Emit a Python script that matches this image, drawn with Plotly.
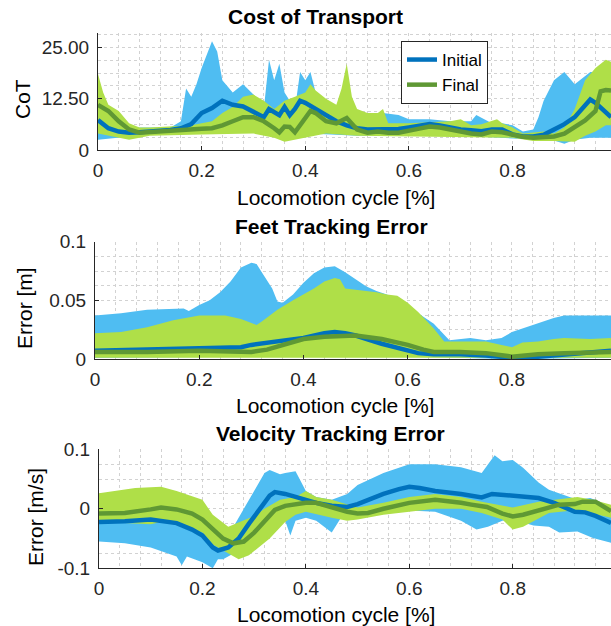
import plotly.graph_objects as go

# ---------------- data ----------------
# Plot 1: Cost of Transport
cot_init_mean_x = [0,0.02,0.04,0.06,0.08,0.10,0.12,0.14,0.16,0.18,0.20,0.22,0.24,0.26,0.28,0.30,0.32,0.33,0.35,0.36,0.37,0.38,0.39,0.40,0.42,0.44,0.46,0.48,0.50,0.52,0.54,0.56,0.58,0.60,0.62,0.64,0.66,0.68,0.70,0.72,0.74,0.76,0.78,0.80,0.82,0.84,0.86,0.88,0.90,0.92,0.94,0.95,0.96,0.98,0.99]
cot_init_mean = [7.3,5.3,4.5,4.2,4.3,4.5,4.6,4.9,5.3,6.3,9.0,10.2,12.0,11.0,10.6,9.4,8.0,10.0,8.5,10.5,8.5,10.0,12.0,11.5,10.0,8.5,7.0,6.0,5.3,5.0,5.0,5.0,5.1,5.5,6.0,6.3,6.0,5.5,5.0,4.8,4.6,5.0,5.0,3.8,3.3,3.3,3.7,5.0,6.3,8.0,11.0,12.3,11.5,9.0,8.0]
cot_init_up_x = [0,0.02,0.04,0.06,0.08,0.10,0.12,0.14,0.16,0.17,0.18,0.19,0.20,0.22,0.23,0.24,0.26,0.28,0.30,0.32,0.33,0.34,0.35,0.36,0.38,0.39,0.40,0.41,0.42,0.44,0.46,0.48,0.50,0.52,0.55,0.58,0.60,0.64,0.68,0.70,0.72,0.73,0.76,0.78,0.80,0.82,0.84,0.85,0.86,0.88,0.90,0.92,0.94,0.95,0.96,0.98,0.99]
cot_init_up = [12,8,6,5.5,5.5,5.5,5.5,5.5,7,15,13,16,20,26.5,24,17,14,16,13.5,10,22,17,21,14,10,19,17,19,14,10,9,8,7.5,8.5,9,8.5,7.5,7.5,7,7,7,8.5,6.5,6.5,6,4.5,5,8,12,17,19,16,18,19,19,21,18]
cot_init_lo_x = [0,0.04,0.1,0.15,0.2,0.25,0.3,0.35,0.4,0.45,0.5,0.55,0.6,0.65,0.7,0.75,0.8,0.85,0.88,0.9,0.92,0.95,0.99]
cot_init_lo = [2.5,3,3.8,4,4.5,5,5,4.5,4,3.8,3.5,3.5,3.5,3.5,3.5,3.2,2.8,2.5,2.3,1.5,2.5,3,3]

cot_final_mean_x = [0,0.02,0.04,0.06,0.08,0.10,0.12,0.14,0.16,0.18,0.20,0.22,0.24,0.26,0.28,0.30,0.32,0.34,0.35,0.36,0.37,0.38,0.40,0.41,0.42,0.44,0.46,0.48,0.50,0.52,0.54,0.56,0.58,0.60,0.62,0.64,0.66,0.68,0.70,0.72,0.74,0.76,0.78,0.80,0.82,0.84,0.86,0.88,0.90,0.92,0.94,0.96,0.97,0.98,0.99]
cot_final_mean = [11,9.5,7,5,4.2,4.4,4.6,4.8,5,5,5.2,5.3,6,7,8,8,7,5.3,4.3,5.7,5.6,4.3,8,9.5,9,7,6.5,7.8,5,4.2,4.5,4.2,4.2,4.6,5.2,5.7,5.5,5,4.5,4,3.8,4.5,4.3,3.7,3.2,3,3.1,3.3,4,5.5,7.2,9.5,14.3,14.6,14.5]
cot_final_up_x = [0,0.01,0.02,0.04,0.06,0.08,0.10,0.14,0.18,0.22,0.24,0.26,0.28,0.30,0.32,0.34,0.36,0.38,0.40,0.41,0.42,0.44,0.46,0.47,0.48,0.49,0.50,0.52,0.54,0.55,0.56,0.60,0.64,0.68,0.70,0.72,0.74,0.76,0.77,0.78,0.80,0.82,0.86,0.88,0.90,0.92,0.94,0.96,0.98,0.99]
cot_final_up = [18.5,14,11,9.5,6.5,5.5,5.5,5.8,6,7,9,10.5,13,13.5,12,10,12,13,14,16,14.5,12.5,11,15,21,13,10,9,9,10,6.5,6.5,6.8,7,7.5,6,6.3,7,7.5,6.5,5.5,4,4.5,4,5.5,10,17,20,22,21.5]
cot_final_lo_x = [0,0.02,0.06,0.1,0.2,0.3,0.34,0.36,0.38,0.4,0.44,0.5,0.6,0.7,0.8,0.84,0.88,0.92,0.94,0.96,0.98,0.99]
cot_final_lo = [4,3.5,2.5,3.5,3.8,4,3,2,2.5,3,4,3.5,3.3,3.2,3,2.2,2.2,2,3.5,4.5,6,6]

# Plot 2: Feet Tracking Error
feet_init_mean_x = [0,0.1,0.2,0.28,0.3,0.35,0.4,0.44,0.46,0.48,0.5,0.55,0.6,0.62,0.65,0.7,0.75,0.8,0.85,0.9,0.99]
feet_init_mean = [0.007,0.008,0.009,0.01,0.012,0.015,0.018,0.022,0.023,0.022,0.02,0.013,0.007,0.005,0.004,0.004,0.003,0.001,0.002,0.004,0.007]
feet_init_up_x = [0,0.05,0.1,0.15,0.17,0.18,0.2,0.22,0.24,0.26,0.28,0.3,0.31,0.32,0.34,0.35,0.36,0.38,0.4,0.42,0.44,0.46,0.48,0.5,0.52,0.54,0.56,0.6,0.65,0.68,0.7,0.72,0.75,0.78,0.8,0.82,0.85,0.88,0.9,0.99]
feet_init_up = [0.037,0.039,0.042,0.043,0.043,0.041,0.046,0.05,0.057,0.066,0.078,0.082,0.081,0.074,0.06,0.049,0.048,0.055,0.065,0.073,0.078,0.079,0.074,0.068,0.062,0.058,0.055,0.045,0.03,0.016,0.017,0.018,0.016,0.018,0.023,0.026,0.03,0.035,0.037,0.037]
feet_init_lo_x = [0,0.3,0.45,0.6,0.8,0.99]
feet_init_lo = [0.001,0.002,0.003,0.002,0.0,0.001]

feet_final_mean_x = [0,0.1,0.2,0.28,0.3,0.33,0.36,0.4,0.44,0.48,0.5,0.55,0.6,0.63,0.65,0.7,0.75,0.8,0.85,0.9,0.99]
feet_final_mean = [0.006,0.006,0.007,0.0065,0.006,0.008,0.012,0.017,0.019,0.02,0.02,0.017,0.012,0.008,0.006,0.006,0.005,0.002,0.004,0.005,0.006]
feet_final_up_x = [0,0.05,0.1,0.15,0.2,0.25,0.28,0.31,0.32,0.35,0.38,0.4,0.42,0.44,0.46,0.47,0.48,0.5,0.54,0.56,0.58,0.6,0.62,0.65,0.67,0.7,0.75,0.78,0.8,0.82,0.85,0.88,0.9,0.95,0.99]
feet_final_up = [0.022,0.023,0.027,0.033,0.037,0.037,0.034,0.029,0.032,0.042,0.05,0.055,0.06,0.066,0.069,0.068,0.06,0.059,0.057,0.055,0.054,0.048,0.04,0.026,0.015,0.015,0.015,0.012,0.01,0.014,0.015,0.017,0.018,0.017,0.018]
feet_final_lo_x = [0,0.99]
feet_final_lo = [0.001,0.001]

# Plot 3: Velocity Tracking Error
vel_init_mean_x = [0,0.05,0.1,0.15,0.18,0.2,0.22,0.23,0.25,0.27,0.29,0.31,0.33,0.34,0.36,0.38,0.4,0.42,0.45,0.48,0.5,0.52,0.55,0.58,0.6,0.62,0.65,0.7,0.74,0.76,0.8,0.85,0.88,0.9,0.92,0.94,0.96,0.99]
vel_init_mean = [-0.022,-0.021,-0.018,-0.024,-0.035,-0.045,-0.065,-0.07,-0.065,-0.05,-0.025,0.0,0.022,0.028,0.025,0.02,0.015,0.01,0.005,0.003,0.008,0.015,0.025,0.033,0.037,0.035,0.03,0.025,0.019,0.025,0.022,0.018,0.01,0.003,-0.005,-0.006,-0.012,-0.024]
vel_init_up_x = [0,0.05,0.1,0.15,0.2,0.22,0.24,0.26,0.28,0.3,0.32,0.33,0.35,0.36,0.38,0.4,0.42,0.45,0.48,0.5,0.55,0.6,0.65,0.7,0.74,0.765,0.78,0.8,0.82,0.85,0.87,0.91,0.925,0.95,0.99]
vel_init_up = [0.005,0.003,0.0,-0.005,-0.02,-0.04,-0.045,-0.03,0.0,0.03,0.06,0.065,0.058,0.06,0.063,0.03,0.02,0.015,0.025,0.04,0.06,0.075,0.075,0.07,0.06,0.09,0.08,0.082,0.069,0.044,0.032,0.02,0.015,0.018,0.004]
vel_init_lo_x = [0,0.05,0.1,0.15,0.16,0.17,0.2,0.22,0.23,0.24,0.26,0.28,0.3,0.32,0.34,0.36,0.37,0.38,0.4,0.42,0.45,0.47,0.5,0.55,0.6,0.65,0.7,0.73,0.752,0.78,0.8,0.84,0.87,0.89,0.925,0.955,0.99]
vel_init_lo = [-0.055,-0.058,-0.065,-0.08,-0.095,-0.08,-0.09,-0.1,-0.085,-0.085,-0.075,-0.07,-0.055,-0.03,-0.015,-0.02,-0.045,-0.02,-0.015,-0.02,-0.04,-0.012,-0.01,-0.002,-0.003,-0.005,-0.02,-0.035,-0.03,-0.02,-0.018,-0.028,-0.03,-0.04,-0.038,-0.049,-0.057]

vel_final_mean_x = [0,0.05,0.1,0.12,0.15,0.18,0.2,0.22,0.24,0.26,0.28,0.3,0.32,0.34,0.36,0.38,0.4,0.42,0.44,0.46,0.48,0.5,0.52,0.55,0.58,0.6,0.65,0.68,0.7,0.72,0.75,0.78,0.8,0.82,0.85,0.89,0.92,0.935,0.96,0.99]
vel_final_mean = [-0.008,-0.007,-0.001,0.002,-0.001,-0.008,-0.018,-0.035,-0.05,-0.058,-0.055,-0.04,-0.02,-0.002,0.005,0.008,0.01,0.01,0.005,0.0,-0.005,-0.008,-0.007,0.0,0.005,0.01,0.015,0.013,0.01,0.007,0.003,-0.008,-0.013,-0.01,-0.002,0.007,0.008,0.012,0.012,-0.004]
vel_final_up_x = [0,0.07,0.12,0.15,0.2,0.22,0.25,0.28,0.3,0.32,0.35,0.38,0.4,0.42,0.45,0.5,0.55,0.6,0.65,0.7,0.74,0.8,0.85,0.925,0.955,0.99]
vel_final_up = [0.026,0.035,0.037,0.03,0.015,-0.01,-0.03,-0.02,-0.012,0.0,0.015,0.02,0.03,0.02,0.015,0.002,0.01,0.02,0.025,0.02,0.012,0.002,0.012,0.02,0.015,0.007]
vel_final_lo_x = [0,0.05,0.1,0.12,0.15,0.2,0.22,0.25,0.27,0.29,0.3,0.33,0.36,0.38,0.4,0.45,0.48,0.5,0.55,0.6,0.65,0.7,0.74,0.78,0.8,0.82,0.87,0.925,0.99]
vel_final_lo = [-0.021,-0.024,-0.026,-0.022,-0.025,-0.04,-0.06,-0.075,-0.085,-0.078,-0.07,-0.05,-0.022,-0.01,-0.005,-0.015,-0.02,-0.018,-0.01,-0.005,0.0,0.0,-0.007,-0.018,-0.035,-0.03,-0.007,-0.002,-0.015]

x_tickvals = [0, 0.2, 0.4, 0.6, 0.8]
x_ticktext = ["0", "0.2", "0.4", "0.6", "0.8"]
y1_tickvals = [0, 12.5, 25]
y1_ticktext = ["0", "12.50", "25.00"]
y2_tickvals = [0, 0.05, 0.1]
y2_ticktext = ["0", "0.05", "0.1"]
y3_tickvals = [-0.1, 0, 0.1]
y3_ticktext = ["-0.1", "0", "0.1"]

titles = ["Cost of Transport", "Feet Tracking Error", "Velocity Tracking Error"]
ylabels = ["CoT", "Error [m]", "Error [m/s]"]
xlabel = "Locomotion cycle [%]"
series_names = ["Initial", "Final"]

# ---------------- style ----------------
W, H = 611, 626
FONT = "Liberation Sans, Arial, Helvetica, sans-serif"
BLUE_BAND = "#4fbdf2"
GREEN_BAND = "#afdf48"
BLUE_LINE = "#0072bd"
GREEN_LINE = "#5f9834"
AX = "#262626"
GRID = "#d2d2d2"

fig = go.Figure()

panels = [
    (cot_init_mean_x, cot_init_mean, cot_init_up_x, cot_init_up, cot_init_lo_x, cot_init_lo,
     cot_final_mean_x, cot_final_mean, cot_final_up_x, cot_final_up, cot_final_lo_x, cot_final_lo),
    (feet_init_mean_x, feet_init_mean, feet_init_up_x, feet_init_up, feet_init_lo_x, feet_init_lo,
     feet_final_mean_x, feet_final_mean, feet_final_up_x, feet_final_up, feet_final_lo_x, feet_final_lo),
    (vel_init_mean_x, vel_init_mean, vel_init_up_x, vel_init_up, vel_init_lo_x, vel_init_lo,
     vel_final_mean_x, vel_final_mean, vel_final_up_x, vel_final_up, vel_final_lo_x, vel_final_lo),
]

for i, p in enumerate(panels):
    (imx, im, iux, iu, ilx, il, fmx, fm, fux, fu, flx, fl) = p
    xa = "x" if i == 0 else f"x{i+1}"
    ya = "y" if i == 0 else f"y{i+1}"
    fig.add_trace(go.Scatter(x=list(iux) + list(ilx)[::-1], y=list(iu) + list(il)[::-1],
                             fill="toself", fillcolor=BLUE_BAND, line=dict(width=0),
                             mode="lines", showlegend=False, hoverinfo="skip", xaxis=xa, yaxis=ya))
    fig.add_trace(go.Scatter(x=list(fux) + list(flx)[::-1], y=list(fu) + list(fl)[::-1],
                             fill="toself", fillcolor=GREEN_BAND, line=dict(width=0),
                             mode="lines", showlegend=False, hoverinfo="skip", xaxis=xa, yaxis=ya))
    fig.add_trace(go.Scatter(x=imx, y=im, mode="lines", line=dict(color=BLUE_LINE, width=4.5),
                             name=series_names[0], showlegend=(i == 0), xaxis=xa, yaxis=ya))
    fig.add_trace(go.Scatter(x=fmx, y=fm, mode="lines", line=dict(color=GREEN_LINE, width=4.5),
                             name=series_names[1], showlegend=(i == 0), xaxis=xa, yaxis=ya))

def px_x(px):
    return px / W

def px_y(py):
    return 1 - py / H

geo = [
    dict(left=98, top=33, bottom=150, yrange=[0, 28.5], tv=y1_tickvals, tt=y1_ticktext, minor=3.125),
    dict(left=95, top=241.7, bottom=359, yrange=[0, 0.1], tv=y2_tickvals, tt=y2_ticktext, minor=0.0125),
    dict(left=99, top=449.3, bottom=568.3, yrange=[-0.1, 0.1], tv=y3_tickvals, tt=y3_ticktext, minor=0.025),
]

common_axis = dict(showline=True, linecolor=AX, linewidth=1, mirror=False, zeroline=False,
                   ticks="inside", ticklen=4, tickcolor=AX, tickwidth=1,
                   showgrid=True, gridcolor=GRID, griddash="dot", gridwidth=1,
                   tickfont=dict(family=FONT, size=19, color=AX))

layout_axes = {}
for i, g in enumerate(geo):
    xk = "xaxis" if i == 0 else f"xaxis{i+1}"
    yk = "yaxis" if i == 0 else f"yaxis{i+1}"
    xa = "x" if i == 0 else f"x{i+1}"
    ya = "y" if i == 0 else f"y{i+1}"
    layout_axes[xk] = dict(common_axis, domain=[px_x(g["left"]), 1], range=[0, 0.99],
                           anchor=ya, tickvals=x_tickvals, ticktext=x_ticktext,
                           minor=dict(tick0=0, dtick=0.04, showgrid=True, gridcolor=GRID,
                                      griddash="dot", gridwidth=1, ticks=""),
                           ticklabelstandoff=3)
    layout_axes[yk] = dict(common_axis, domain=[px_y(g["bottom"]), px_y(g["top"])],
                           range=g["yrange"], anchor=xa, tickvals=g["tv"], ticktext=g["tt"],
                           minor=dict(tick0=0, dtick=g["minor"], showgrid=True, gridcolor=GRID,
                                      griddash="dot", gridwidth=1, ticks=""),
                           ticklabelstandoff=4)

annotations = []
title_pos = [(315, 16), (331, 226), (330, 433)]
xlabel_pos = [(336, 197), (335, 405), (336, 614)]
ylabel_pos = [(22, 99), (25, 308), (35, 517)]
for i in range(3):
    tx, ty = title_pos[i]
    annotations.append(dict(text=f"<b>{titles[i]}</b>", x=px_x(tx), y=px_y(ty), xref="paper", yref="paper",
                            xanchor="center", yanchor="middle", showarrow=False,
                            font=dict(family=FONT, size=21, color="#000000")))
    lx, ly = xlabel_pos[i]
    annotations.append(dict(text=xlabel, x=px_x(lx), y=px_y(ly), xref="paper", yref="paper",
                            xanchor="center", yanchor="middle", showarrow=False,
                            font=dict(family=FONT, size=21, color="#000000")))
    yx, yy = ylabel_pos[i]
    annotations.append(dict(text=ylabels[i], x=px_x(yx), y=px_y(yy), xref="paper", yref="paper",
                            xanchor="center", yanchor="middle", showarrow=False, textangle=-90,
                            font=dict(family=FONT, size=21, color="#000000")))

fig.update_layout(
    width=W, height=H,
    margin=dict(l=0, r=0, t=0, b=0, autoexpand=False),
    paper_bgcolor="white", plot_bgcolor="white",
    font=dict(family=FONT, color=AX),
    annotations=annotations,
    legend=dict(x=px_x(401), y=px_y(41), xanchor="left", yanchor="top",
                bgcolor="white", bordercolor=AX, borderwidth=1,
                font=dict(family=FONT, size=17, color="#000000"),
                tracegroupgap=0, itemwidth=30),
    showlegend=True,
    **layout_axes,
)

fig.write_html("out.html")
